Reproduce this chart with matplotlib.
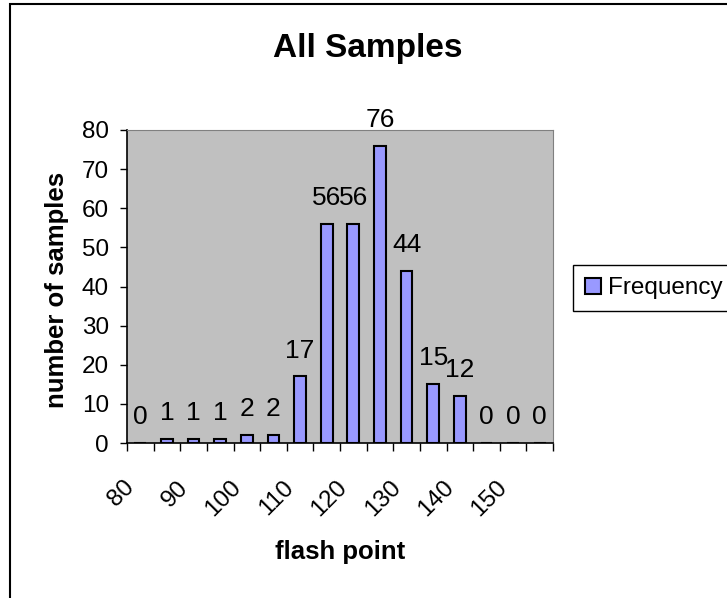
import matplotlib
matplotlib.use("Agg")
import matplotlib.pyplot as plt
from matplotlib.patches import Rectangle
from matplotlib.transforms import ScaledTranslation

# histogram bins (flash point) and counts
bins = [80, 85, 90, 95, 100, 105, 110, 115, 120, 125, 130, 135, 140, 145, 150, 155]
freq = [0, 1, 1, 1, 2, 2, 17, 56, 56, 76, 44, 15, 12, 0, 0, 0]
tick_labels = ["80", "90", "100", "110", "120", "130", "140", "150"]

plt.rcParams["font.family"] = ["Liberation Sans", "DejaVu Sans"]

fig = plt.figure(figsize=(7.27, 5.98), dpi=100)
ax = fig.add_axes([127 / 727, 155 / 598, 426 / 727, 313 / 598])
ax.set_facecolor("#C0C0C0")

pos = list(range(len(bins)))
ax.bar(pos, freq, width=0.44, color="#9999FF", edgecolor="black",
       linewidth=1.5, label="Frequency", zorder=3)

for x, v in zip(pos, freq):
    ax.annotate(str(v), (x, v), xytext=(0, 10), textcoords="offset points",
                ha="center", va="bottom", fontsize=19, clip_on=False)

ax.set_xlim(-0.5, len(bins) - 0.5)
ax.set_ylim(0, 80)
ax.set_yticks(range(0, 81, 10))
ax.tick_params(axis="y", labelsize=17.5, length=5, width=1, pad=8)

# ticks on bin edges, labels on every other bin
ax.set_xticks([i - 0.5 for i in range(len(bins) + 1)])
ax.set_xticklabels([])
ax.set_xticks(pos[::2], minor=True)
ax.set_xticklabels(tick_labels, minor=True, rotation=45, ha="right",
                   rotation_mode="anchor", fontsize=17.5)
ax.tick_params(axis="x", which="major", length=6, width=1)
ax.tick_params(axis="x", which="minor", length=0, pad=24)
shift = ScaledTranslation(-17 / 100, 0, fig.dpi_scale_trans)
for lbl in ax.get_xticklabels(minor=True):
    lbl.set_transform(lbl.get_transform() + shift)

for s in ["top", "right"]:
    ax.spines[s].set_color("#808080")
for s in ["left", "bottom"]:
    ax.spines[s].set_linewidth(1.2)

fig.text(0.506, 1 - 48 / 598, "All Samples", ha="center", va="center",
         fontsize=24, fontweight="bold")
fig.text(57 / 727, 1 - 290 / 598, "number of samples", ha="center", va="center",
         rotation=90, fontsize=18.5, fontweight="bold")
fig.text(340 / 727, 1 - 552 / 598, "flash point", ha="center", va="center",
         fontsize=18.5, fontweight="bold")

leg = fig.legend(loc="upper left", bbox_to_anchor=(573 / 727, 1 - 265 / 598),
                 fontsize=17.5, fancybox=False, framealpha=1, edgecolor="black",
                 handlelength=0.65, handleheight=0.65, handletextpad=0.3,
                 borderpad=0.5, borderaxespad=0)
leg.get_frame().set_linewidth(1)

fig.patches.append(Rectangle((10 / 727, -0.1), 1.2, 1.1 - 4 / 598, fill=False,
                             edgecolor="black", linewidth=1.5,
                             transform=fig.transFigure, figure=fig))

fig.savefig("out.png", dpi=100)
